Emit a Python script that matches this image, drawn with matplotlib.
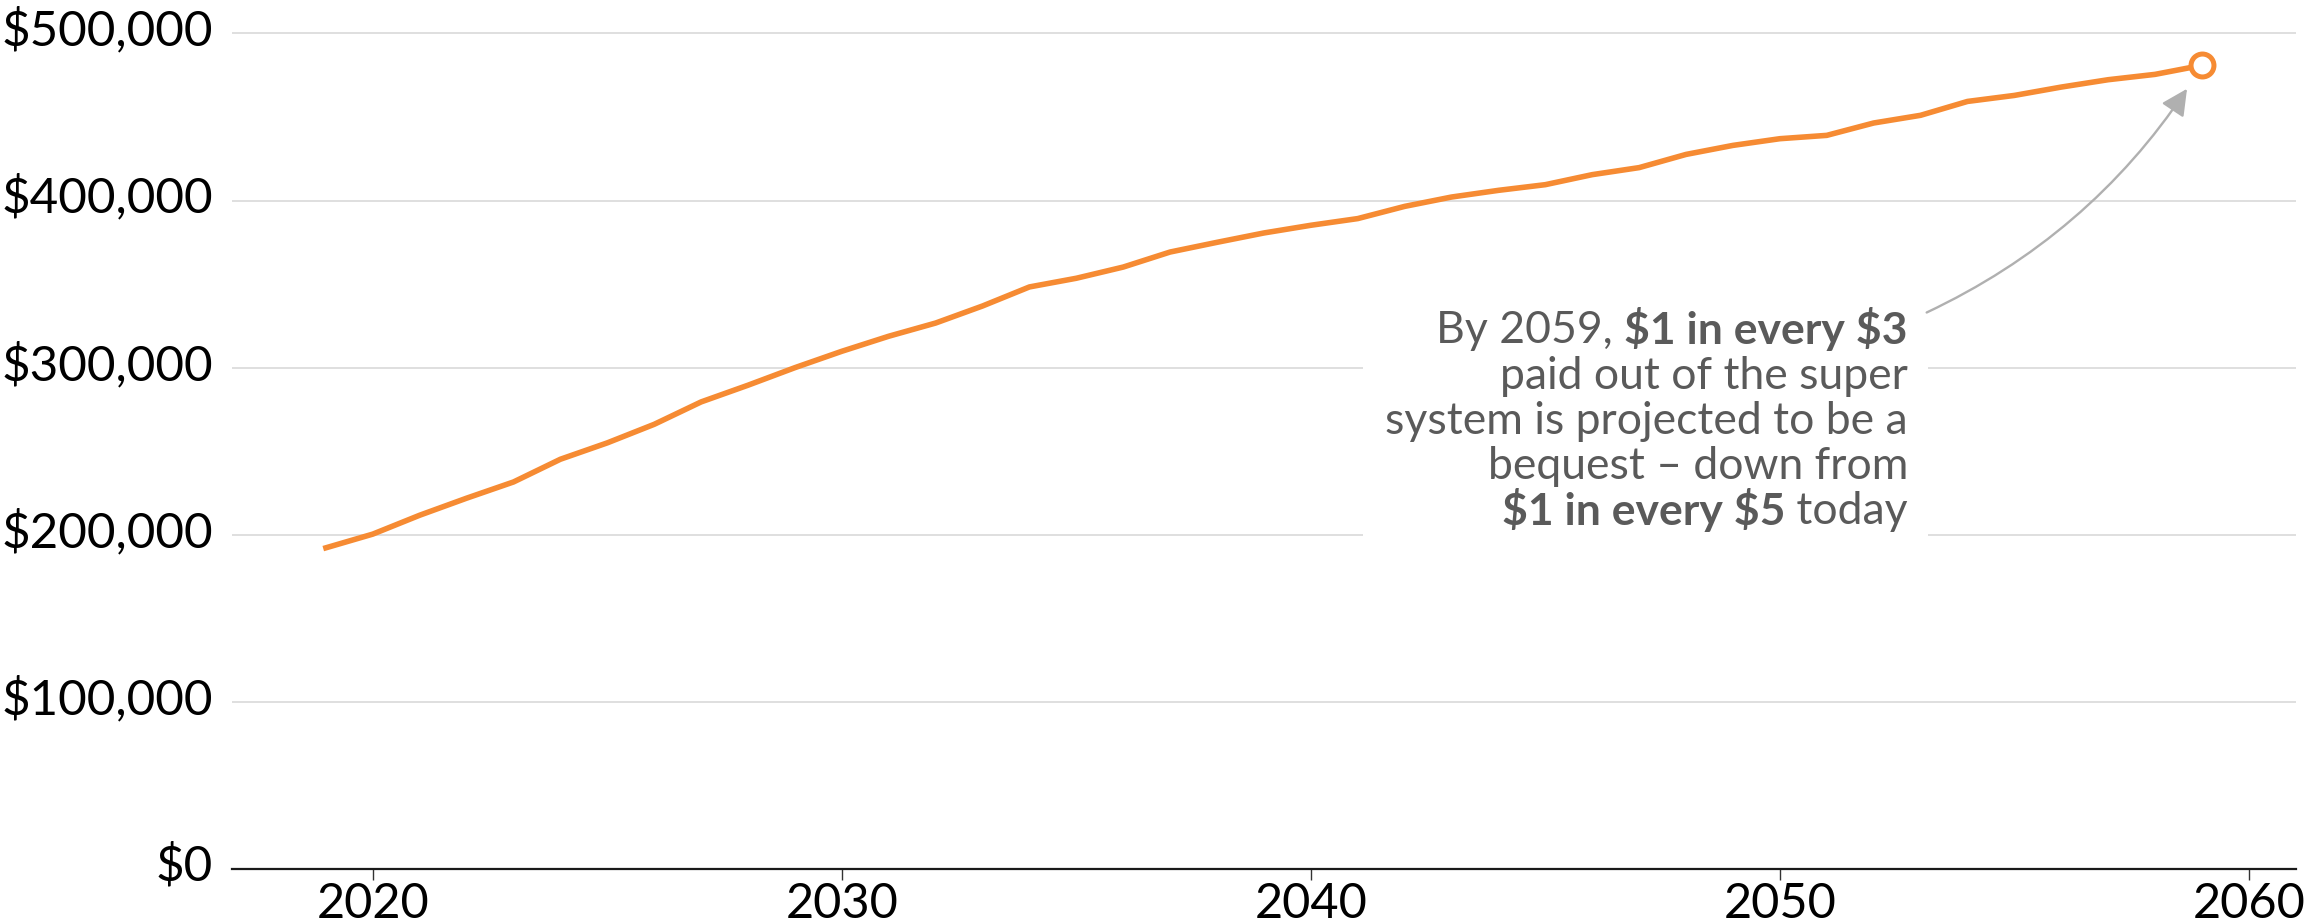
import matplotlib
matplotlib.use("Agg")
import matplotlib.pyplot as plt
from matplotlib.ticker import FuncFormatter
from matplotlib.patches import Rectangle
from matplotlib.transforms import Bbox, ScaledTranslation

# average bequest paid out of super, projected
years = list(range(2019, 2060))
bequest = [
    192200, 200400, 211700, 221900, 231600, 245200, 255000, 266100, 279500, 289500,
    300000, 309800, 318800, 326700, 336900, 348300, 353500, 360200, 369200, 375000,
    380600, 385200, 389200, 396500, 402100, 406100, 409500, 415500, 419700, 427600,
    433000, 437000, 439000, 446400, 451000, 459300, 462900, 467900, 472300, 475500,
    480900,
]
x_ticks = [2020, 2030, 2040, 2050, 2060]
y_ticks = [0, 100000, 200000, 300000, 400000, 500000]

note_lines = [
    [("By 2059, ", "normal"), ("$1 in every $3", "bold")],
    [("paid out of the super", "normal")],
    [("system is projected to be a", "normal")],
    [("bequest \u2013 down from", "normal")],
    [("$1 in every $5", "bold"), (" today", "normal")],
]

ORANGE = "#F68B33"
NOTE_GREY = "#5a5a5a"

plt.rcParams["font.family"] = ["Lato", "DejaVu Sans"]

fig = plt.figure(figsize=(23.05, 9.23), dpi=100)
ax = fig.add_axes([0.1007, 0.0585, 0.8953, 0.9415])

ax.plot(years, bequest, color=ORANGE, lw=4, solid_joinstyle="round", zorder=3)
ax.plot(years[-1], bequest[-1], "o", ms=16.5, mfc="white", mec=ORANGE, mew=3.6, zorder=4)

ax.set_xlim(2017, 2061)
ax.set_ylim(0, 520000)
ax.set_xticks(x_ticks)
ax.set_yticks(y_ticks)
ax.yaxis.set_major_formatter(FuncFormatter(lambda v, p: f"${v:,.0f}"))

ax.grid(axis="y", color="#d6d6d6", lw=1.1)
ax.set_axisbelow(True)
for side in ["left", "right", "top"]:
    ax.spines[side].set_visible(False)
ax.spines["bottom"].set_color("#1a1a1a")
ax.spines["bottom"].set_linewidth(1.6)
ax.spines["bottom"].set_zorder(5)

ax.tick_params(axis="x", length=8, width=1, color="#333333", pad=1, labelsize=35)
ax.tick_params(axis="y", length=0, pad=14, labelsize=35.5)
# y labels sit a little above their gridlines
lift = ScaledTranslation(0, 5 / 72, fig.dpi_scale_trans)
for lab in ax.get_yticklabels():
    lab.set_transform(lab.get_transform() + lift)

# callout text, right aligned, mixed weights
anchor = (2052.73, 314400)
line_step = 32.4
texts = []
for i, pieces in enumerate(note_lines):
    prev = None
    for txt, wt in reversed(pieces):
        if prev is None:
            t = ax.annotate(txt, xy=anchor, xycoords="data",
                            xytext=(0, -i * line_step), textcoords="offset points",
                            ha="right", va="baseline", fontsize=32, fontweight=wt,
                            color=NOTE_GREY, parse_math=False, zorder=6)
        else:
            t = ax.annotate(txt, xy=(0, 0), xycoords=prev,
                            ha="right", va="bottom", fontsize=32, fontweight=wt,
                            color=NOTE_GREY, parse_math=False, zorder=6)
        texts.append(t)
        prev = t

ax.annotate("", xy=(years[-1], bequest[-1]), xytext=(2053.13, 333000),
            arrowprops=dict(arrowstyle="-|>,head_length=0.4,head_width=0.2",
                            color="#b0b0b0", lw=1.7, mutation_scale=40,
                            shrinkA=0, shrinkB=20,
                            connectionstyle="arc3,rad=0.15"),
            zorder=6)

# white panel behind the callout so gridlines break around it
fig.canvas.draw()
box = Bbox.union([t.get_window_extent() for t in texts])
box = Bbox.from_extents(box.x0 - 22, box.y0 - 8, box.x1 + 20, box.y1 + 8)
box_ax = box.transformed(ax.transAxes.inverted())
ax.add_patch(Rectangle((box_ax.x0, box_ax.y0), box_ax.width, box_ax.height,
                       transform=ax.transAxes, facecolor="white",
                       edgecolor="none", zorder=1.5))

fig.savefig("out.png", dpi=100)
